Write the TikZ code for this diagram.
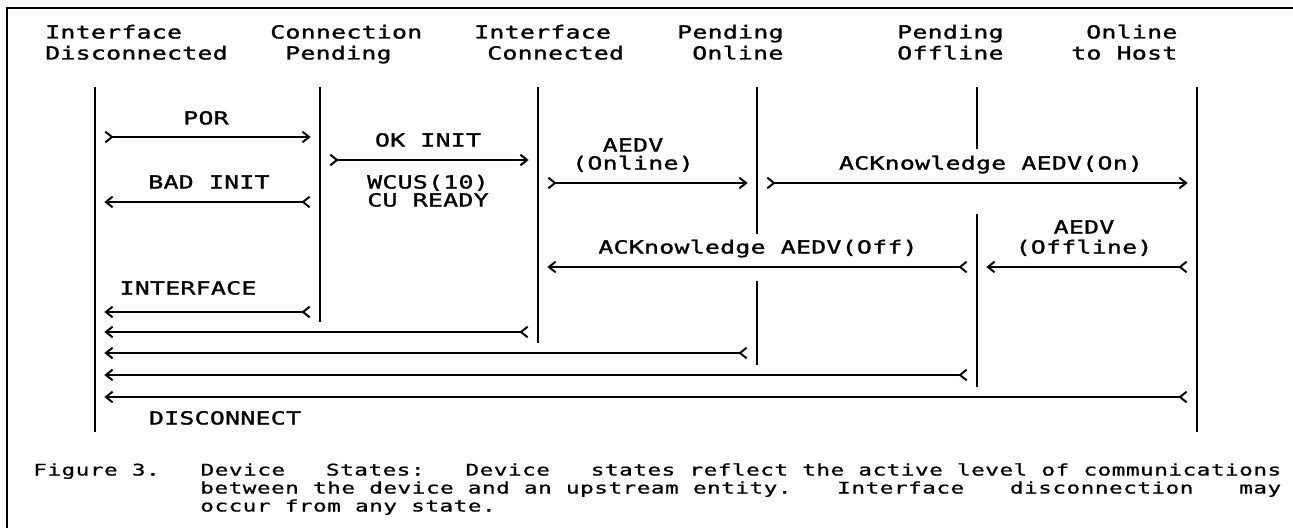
\documentclass[tikz,border=0pt]{standalone}
\usepackage{fontspec}
\usetikzlibrary{arrows.meta}
\newfontfamily\typefont{DejaVu Sans Mono}[FakeStretch=1.38,LetterSpace=1.5,FakeBold=1.5]
\newfontfamily\capfont{DejaVu Sans Mono}[FakeStretch=1.42,LetterSpace=3,FakeBold=1]
\newcommand{\hd}{\typefont\fontsize{13.5}{15}\selectfont}
\newcommand{\cpt}{\capfont\fontsize{12}{14}\selectfont}

\tikzset{
  lifeline/.style={line width=1.8pt},
  msg/.style={line width=1.5pt, shorten <=7pt, shorten >=7pt,
    {Straight Barb[reversed,length=5pt,width=8pt]}-{Straight Barb[length=5pt,width=8pt]}},
  lbl/.style={font=\hd, inner sep=0pt, anchor=base},
  hdr/.style={font=\hd, inner sep=0pt, anchor=base west},
  capline/.style={font=\cpt, inner sep=0pt, anchor=base west}
}

\begin{document}
\begin{tikzpicture}[x=0.75pt, y=-0.75pt]
\useasboundingbox (0,0) rectangle (1293,528);
\draw[line width=1.2pt] (1293,8) -- (7,8) -- (7,528);

% state names
\node[hdr] (disc1)  at (45,38.5)   {Interface};
\node[hdr] (disc2)  at (45,59.5)   {Disconnected};
\node[hdr] (cpend1) at (270,38.5)  {Connection};
\node[hdr] (cpend2) at (285,59.5)  {Pending};
\node[hdr] (icon1)  at (474,38.5)  {Interface};
\node[hdr] (icon2)  at (487,59.5)  {Connected};
\node[hdr] (pon1)   at (677,38.5)  {Pending};
\node[hdr] (pon2)   at (692,59.5)  {Online};
\node[hdr] (poff1)  at (897,38.5)  {Pending};
\node[hdr] (poff2)  at (897,59.5)  {Offline};
\node[hdr] (host1)  at (1086,38.5) {Online};
\node[hdr] (host2)  at (1071,59.5) {to Host};

% lifelines
\coordinate (ldisc)  at (95,87);
\coordinate (lcpend) at (320,87);
\coordinate (licon)  at (538,87);
\coordinate (lpon)   at (757,87);
\coordinate (lpoff)  at (977,87);
\coordinate (lhost)  at (1197,87);
\draw[lifeline] (ldisc) -- (ldisc |- 0,432);
\draw[lifeline] (lcpend) -- (lcpend |- 0,322);
\draw[lifeline] (licon) -- (licon |- 0,343);
\draw[lifeline] (lpon) -- (lpon |- 0,234) (lpon |- 0,281) -- (lpon |- 0,365);
\draw[lifeline] (lpoff) -- (lpoff |- 0,149) (lpoff |- 0,214) -- (lpoff |- 0,387);
\draw[lifeline] (lhost) -- (lhost |- 0,432);

% messages
\draw[msg] (ldisc |- 0,137) -- (lcpend |- 0,137);
\node[lbl] (por) at (206,124.5) {POR};
\draw[msg] (lcpend |- 0,160) -- (licon |- 0,160);
\node[lbl] (okinit) at (428,146.5) {OK INIT};
\node[lbl] (wcus) at (428,188.5) {WCUS(10)};
\node[lbl] (cuready) at (428,206.5) {CU READY};
\draw[msg] (lcpend |- 0,202) -- (ldisc |- 0,202);
\node[lbl] (badinit) at (209,188.5) {BAD INIT};
\draw[msg] (licon |- 0,183) -- (lpon |- 0,183);
\node[lbl] (aedvon1) at (633,151.5) {AEDV};
\node[lbl] (aedvon2) at (633,169.5) {(Online)};
\draw[msg] (lpon |- 0,183) -- (lhost |- 0,183);
\node[lbl] (ackon) at (991,169.5) {ACKnowledge AEDV(On)};
\draw[msg] (lpoff |- 0,267) -- (licon |- 0,267);
\node[lbl] (ackoff) at (758,253.5) {ACKnowledge AEDV(Off)};
\draw[msg] (lhost |- 0,267) -- (lpoff |- 0,267);
\node[lbl] (aedvoff1) at (1084,233.5) {AEDV};
\node[lbl] (aedvoff2) at (1084,253.5) {(Offline)};

% disconnection
\draw[msg] (lcpend |- 0,312) -- (ldisc |- 0,312);
\node[lbl] (iface) at (188,294.5) {INTERFACE};
\draw[msg] (licon |- 0,332) -- (ldisc |- 0,332);
\draw[msg] (lpon |- 0,353) -- (ldisc |- 0,353);
\draw[msg] (lpoff |- 0,375) -- (ldisc |- 0,375);
\draw[msg] (lhost |- 0,397) -- (ldisc |- 0,397);
\node[lbl] (discon) at (225,424.5) {DISCONNECT};

% caption
\node[capline] (fig1) at (33,475.5) {\makebox[936pt][l]{Figure 3.\hfill Device\hfill States:\hfill Device\hfill states reflect the active level of communications}};
\node[capline] (fig2) at (200,493.5) {\makebox[810.75pt][l]{between the device and an upstream entity.\hfill Interface\hfill disconnection\hfill may}};
\node[capline] (fig3) at (200,511.5) {occur from any state.};
\end{tikzpicture}
\end{document}
